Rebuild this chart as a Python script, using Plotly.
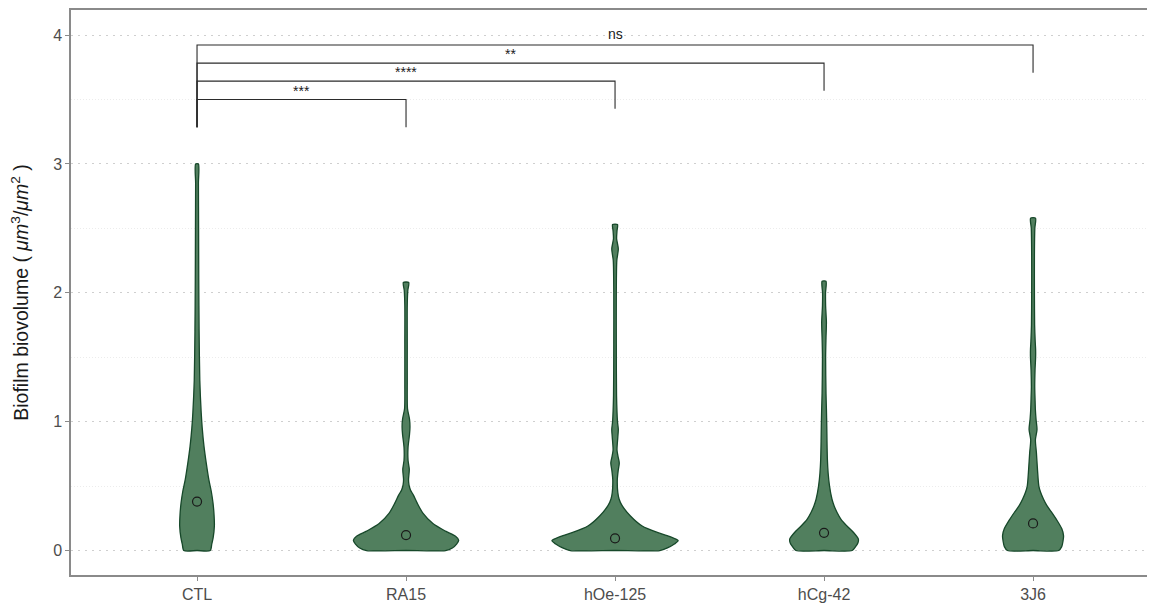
import plotly.graph_objects as go

# ---------------- data ----------------
categories = ["CTL", "RA15", "hOe-125", "hCg-42", "3J6"]
means = [0.38, 0.12, 0.095, 0.137, 0.21]

# violin density profiles (value levels and relative density)
ctl_levels = [0, 0.05, 0.10, 0.19, 0.28, 0.37, 0.46, 0.55, 0.68, 0.81, 0.95, 1.07, 1.32, 1.7, 2.1, 2.5, 2.85, 3.0]
ctl_density = [0.76, 0.85, 0.93, 1.0, 0.98, 0.92, 0.82, 0.68, 0.53, 0.40, 0.30, 0.24, 0.16, 0.12, 0.10, 0.09, 0.08, 0.08]

ra15_levels = [0, 0.02, 0.05, 0.08, 0.11, 0.15, 0.21, 0.29, 0.37, 0.43, 0.47, 0.51, 0.55, 0.63, 0.70,
               0.80, 0.90, 0.96, 1.02, 1.10, 1.30, 1.60, 1.90, 2.02, 2.08]
ra15_density = [0.75, 0.88, 0.96, 1.0, 0.94, 0.75, 0.51, 0.32, 0.21, 0.14, 0.084, 0.056, 0.047, 0.062, 0.038,
                0.038, 0.066, 0.075, 0.066, 0.028, 0.023, 0.023, 0.023, 0.034, 0.051]

hoe_levels = [0, 0.02, 0.05, 0.077, 0.11, 0.14, 0.19, 0.27, 0.35, 0.40, 0.45, 0.55, 0.62, 0.68, 0.73,
              0.78, 0.88, 0.94, 1.0, 1.2, 1.6, 2.0, 2.25, 2.34, 2.42, 2.48, 2.53]
hoe_density = [0.71, 0.83, 0.94, 1.0, 0.86, 0.67, 0.43, 0.24, 0.11, 0.064, 0.044, 0.036, 0.05, 0.067, 0.047,
               0.031, 0.044, 0.052, 0.039, 0.024, 0.02, 0.02, 0.028, 0.052, 0.025, 0.031, 0.039]

hcg_levels = [0, 0.03, 0.06, 0.09, 0.14, 0.19, 0.24, 0.295, 0.35, 0.40, 0.50, 0.60, 0.705, 0.85, 0.96,
              1.10, 1.22, 1.50, 1.65, 1.77, 1.90, 2.00, 2.09]
hcg_density = [0.82, 0.92, 0.99, 1.0, 0.86, 0.67, 0.50, 0.38, 0.29, 0.23, 0.16, 0.12, 0.098, 0.086, 0.08,
               0.069, 0.057, 0.046, 0.057, 0.069, 0.046, 0.043, 0.057]

j36_levels = [0, 0.03, 0.07, 0.115, 0.17, 0.24, 0.30, 0.35, 0.40, 0.45, 0.50, 0.63, 0.76, 0.86, 0.94,
              1.02, 1.09, 1.18, 1.27, 1.40, 1.50, 1.56, 1.62, 1.75, 2.0, 2.3, 2.5, 2.58]
j36_density = [0.84, 0.94, 0.98, 1.0, 0.94, 0.77, 0.60, 0.45, 0.34, 0.25, 0.19, 0.145, 0.11, 0.077, 0.13,
               0.097, 0.077, 0.065, 0.055, 0.065, 0.084, 0.084, 0.071, 0.052, 0.045, 0.045, 0.058, 0.081]

# significance brackets
comparison_groups = [("CTL", "RA15"), ("CTL", "hOe-125"), ("CTL", "hCg-42"), ("CTL", "3J6")]
comparison_labels = ["***", "****", "**", "ns"]
bracket_levels = [3.50, 3.643, 3.783, 3.923]
bracket_base = 3.285
tip_length = 0.215

# ---------------- styling ----------------
profiles = [(ctl_levels, ctl_density), (ra15_levels, ra15_density), (hoe_levels, hoe_density),
            (hcg_levels, hcg_density), (j36_levels, j36_density)]
half_widths = [0.083, 0.252, 0.302, 0.164, 0.146]   # x-units at max density
fill_color = "#517f5e"
edge_color = "#17482a"
font_family = "Liberation Sans, Arial, sans-serif"

fig = go.Figure()

for i, ((lv, dn), hw) in enumerate(zip(profiles, half_widths)):
    # outline starts and ends at the centre of the flat base
    xs = [i] + [i + d * hw for d in dn] + [i - d * hw for d in reversed(dn)] + [i]
    ys = [lv[0]] + list(lv) + list(reversed(lv)) + [lv[0]]
    fig.add_trace(go.Scatter(
        x=xs, y=ys, mode="lines", fill="toself", fillcolor=fill_color,
        line=dict(color=edge_color, width=1.3, shape="spline", smoothing=0.7),
        hoverinfo="skip", showlegend=False))

fig.add_trace(go.Scatter(
    x=list(range(len(categories))), y=means, mode="markers",
    marker=dict(symbol="circle-open", size=9, color="#1a1a1a", line=dict(width=1.2)),
    showlegend=False))

cat_index = {c: i for i, c in enumerate(categories)}
for (a, b), lab, lev in zip(comparison_groups, comparison_labels, bracket_levels):
    xa, xb = cat_index[a], cat_index[b]
    fig.add_trace(go.Scatter(
        x=[xa, xa, xb, xb], y=[bracket_base, lev, lev, lev - tip_length],
        mode="lines", line=dict(color="#2b2b2b", width=1.1),
        hoverinfo="skip", showlegend=False))
    fig.add_annotation(
        x=(xa + xb) / 2, y=lev, text=lab, showarrow=False,
        yanchor="bottom", yshift=(1 if lab == "ns" else -1),
        font=dict(family=font_family, size=14, color="#1a1a1a"))

fig.update_layout(
    width=1140, height=596,
    margin=dict(l=63, r=0, t=2, b=28.5),
    paper_bgcolor="white", plot_bgcolor="white",
    font=dict(family=font_family),
    xaxis=dict(
        range=[-0.603, 4.55], tickmode="array",
        tickvals=list(range(len(categories))), ticktext=categories,
        showgrid=False, zeroline=False, automargin=False,
        showline=True, linecolor="#8a8a8a", linewidth=1.5, mirror=True,
        ticks="outside", ticklen=4, tickcolor="#8a8a8a", tickwidth=1.2,
        tickfont=dict(size=16, color="#4d4d4d")),
    yaxis=dict(
        range=[-0.19, 4.195], tickvals=[0, 1, 2, 3, 4],
        showgrid=True, gridcolor="#cfcfcf", gridwidth=1, griddash="2px,5px",
        minor=dict(tickvals=[0.5, 1.5, 2.5, 3.5], showgrid=True,
                   gridcolor="#ececec", gridwidth=1, griddash="1px,2px"),
        zeroline=False, automargin=False,
        showline=True, linecolor="#8a8a8a", linewidth=1.5, mirror=False,
        ticks="outside", ticklen=4, tickcolor="#8a8a8a", tickwidth=1.2,
        tickfont=dict(size=16, color="#4d4d4d"),
        title=dict(text="Biofilm biovolume ( <i>μm</i><sup>3</sup>/<i>μm</i><sup>2</sup> )",
                   font=dict(size=19.5, color="#1a1a1a"), standoff=20)),
)

fig.write_html("out.html")
